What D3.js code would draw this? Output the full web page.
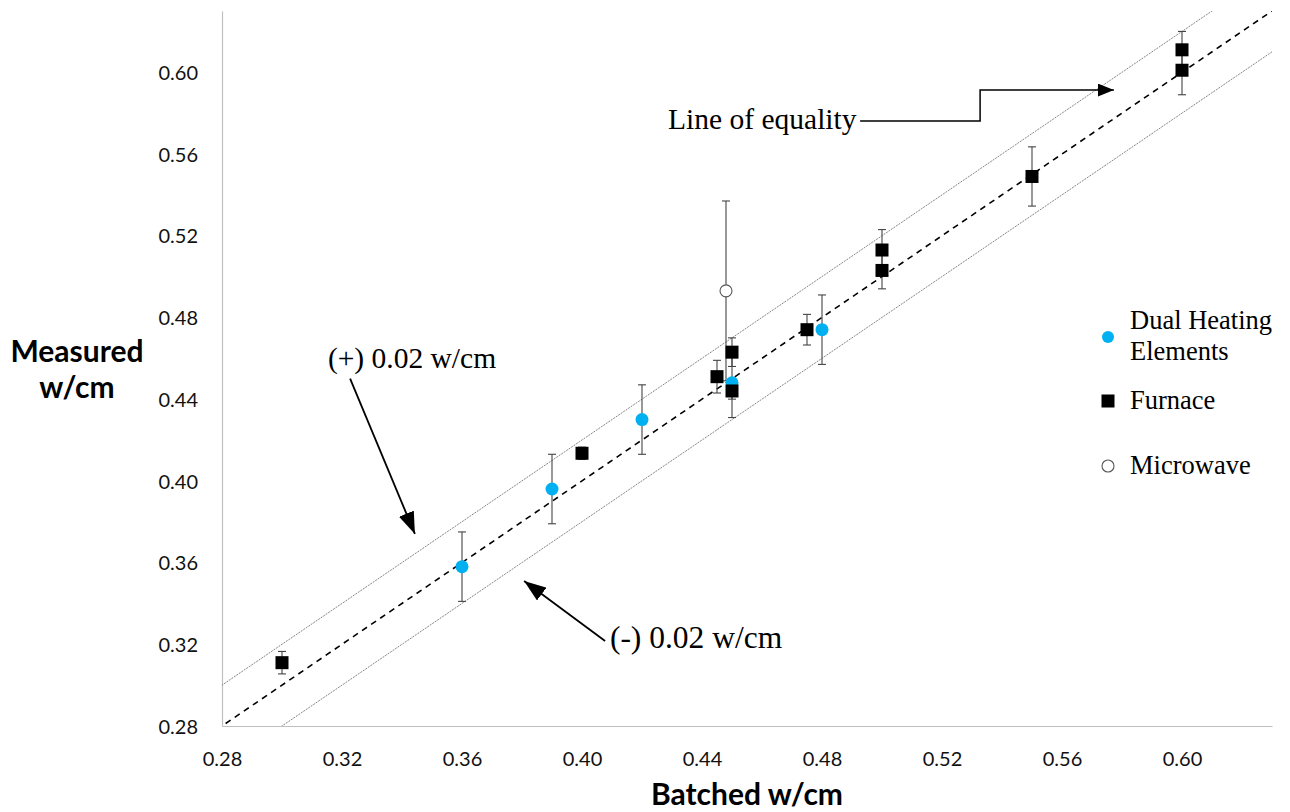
<!DOCTYPE html>
<html>
<head>
<meta charset="utf-8">
<script src="https://cdn.jsdelivr.net/npm/d3@7"></script>
<style>
  html, body { margin: 0; padding: 0; background: #fff; }
  svg { display: block; }
</style>
</head>
<body>
<svg id="chart" width="1290" height="812"></svg>
<script>
// ---- data ----
const xTicks = [0.28, 0.32, 0.36, 0.40, 0.44, 0.48, 0.52, 0.56, 0.60];
const yTicks = [0.28, 0.32, 0.36, 0.40, 0.44, 0.48, 0.52, 0.56, 0.60];

const dualX   = [0.36, 0.39, 0.42, 0.45, 0.48];
const dualY   = [0.358, 0.396, 0.430, 0.448, 0.474];
const dualErr = [0.017, 0.017, 0.017, 0.017, 0.017];

const furnaceX   = [0.30, 0.40, 0.445, 0.45, 0.45, 0.475, 0.50, 0.50, 0.55, 0.60, 0.60];
const furnaceY   = [0.311, 0.4135, 0.451, 0.463, 0.444, 0.474, 0.513, 0.503, 0.549, 0.611, 0.601];
const furnaceErr = [0.0055, 0.003, 0.008, 0.007, 0.004, 0.0075, 0.010, 0.009, 0.0145, 0.009, 0.012];

const microX   = [0.448];
const microY   = [0.493];
const microErr = [0.044];

const legendLabels = [["Dual Heating", "Elements"], ["Furnace"], ["Microwave"]];

(function () {
// ---- layout ----
const svg = d3.select("#chart");
const pL = 222, pR = 1272, pT = 11, pB = 726;
const x = d3.scaleLinear().domain([0.28, 0.63]).range([pL, pR]);
const y = d3.scaleLinear().domain([0.28, 0.63]).range([pB, pT]);

const defs = svg.append("defs");
defs.append("clipPath").attr("id", "plotclip")
  .append("rect").attr("x", pL).attr("y", pT).attr("width", pR - pL).attr("height", pB - pT);
defs.append("marker").attr("id", "arrowBig")
  .attr("viewBox", "0 0 10 10").attr("refX", 10).attr("refY", 5)
  .attr("markerWidth", 16).attr("markerHeight", 13).attr("markerUnits", "userSpaceOnUse")
  .attr("orient", "auto").attr("preserveAspectRatio", "none")
  .append("path").attr("d", "M0,0 L10,5 L0,10 z").attr("fill", "#000");
defs.append("marker").attr("id", "arrowDiag")
  .attr("viewBox", "0 0 10 10").attr("refX", 10).attr("refY", 5)
  .attr("markerWidth", 22).attr("markerHeight", 16).attr("markerUnits", "userSpaceOnUse")
  .attr("orient", "auto").attr("preserveAspectRatio", "none")
  .append("path").attr("d", "M0,0 L10,5 L0,10 z").attr("fill", "#000");

// ---- axes ----
const xAxis = d3.axisBottom(x).tickValues(xTicks).tickFormat(d3.format(".2f")).tickSize(0).tickPadding(26);
const yAxis = d3.axisLeft(y).tickValues(yTicks).tickFormat(d3.format(".2f")).tickSize(0).tickPadding(24);

const gx = svg.append("g").attr("transform", `translate(0,${pB})`).call(xAxis);
const gy = svg.append("g").attr("transform", `translate(${pL},0)`).call(yAxis);
[gx, gy].forEach(g => {
  g.select(".domain").attr("stroke", "#bfbfbf").attr("stroke-width", 1.2);
  g.selectAll("text").attr("font-family", "Lato, 'Open Sans', sans-serif")
    .attr("font-size", 20).attr("fill", "#111");
});
gy.selectAll("text").attr("dy", "0.36em");

// ---- reference lines ----
const plot = svg.append("g").attr("clip-path", "url(#plotclip)");
const refLines = [
  {off: 0.02, dash: "2,1", w: 0.8, c: "#666"},
  {off: -0.02, dash: "2,1", w: 0.8, c: "#666"},
  {off: 0, dash: "6,5", w: 1.6, c: "#000"}
];
refLines.forEach(r => {
  plot.append("line")
    .attr("x1", x(0.26)).attr("y1", y(0.26 + r.off))
    .attr("x2", x(0.65)).attr("y2", y(0.65 + r.off))
    .attr("stroke", r.c).attr("stroke-width", r.w)
    .attr("stroke-dasharray", r.dash);
});

// ---- error bars ----
function errorBars(xs, ys, es) {
  const g = svg.append("g").attr("stroke", "#444").attr("stroke-width", 1.1);
  xs.forEach((xv, i) => {
    const x0 = x(xv), y1 = y(ys[i] + es[i]), y2 = y(ys[i] - es[i]);
    g.append("line").attr("x1", x0).attr("x2", x0).attr("y1", y1).attr("y2", y2);
    g.append("line").attr("x1", x0 - 4).attr("x2", x0 + 4).attr("y1", y1).attr("y2", y1);
    g.append("line").attr("x1", x0 - 4).attr("x2", x0 + 4).attr("y1", y2).attr("y2", y2);
  });
}
errorBars(microX, microY, microErr);
errorBars(furnaceX, furnaceY, furnaceErr);
errorBars(dualX, dualY, dualErr);

// ---- points ----
svg.append("g").selectAll("circle").data(microX).join("circle")
  .attr("cx", d => x(d)).attr("cy", (d, i) => y(microY[i])).attr("r", 6)
  .attr("fill", "#fff").attr("stroke", "#555").attr("stroke-width", 1.1);

svg.append("g").selectAll("circle").data(dualX).join("circle")
  .attr("cx", d => x(d)).attr("cy", (d, i) => y(dualY[i])).attr("r", 6.5)
  .attr("fill", "#00b0f0");

const sq = 13;
svg.append("g").selectAll("rect").data(furnaceX).join("rect")
  .attr("x", d => x(d) - sq / 2).attr("y", (d, i) => y(furnaceY[i]) - sq / 2)
  .attr("width", sq).attr("height", sq).attr("fill", "#000");

// ---- legend ----
const serif = "'Liberation Serif', 'Times New Roman', serif";
const lg = svg.append("g");
const legendRows = [337, 401, 466];
lg.append("circle").attr("cx", 1108).attr("cy", legendRows[0]).attr("r", 6).attr("fill", "#00b0f0");
lg.append("rect").attr("x", 1101.5).attr("y", legendRows[1] - 6.5).attr("width", 13).attr("height", 13).attr("fill", "#000");
lg.append("circle").attr("cx", 1108).attr("cy", legendRows[2]).attr("r", 6).attr("fill", "#fff").attr("stroke", "#555").attr("stroke-width", 1.1);
legendLabels.forEach((lines, i) => {
  const t = lg.append("text").attr("font-family", serif).attr("font-size", 26.5).attr("fill", "#000")
    .attr("x", 1130).attr("y", legendRows[i] + 8 - (lines.length - 1) * 16);
  lines.forEach((s, j) => t.append("tspan").attr("x", 1130).attr("dy", j === 0 ? 0 : 31).text(s));
});

// ---- annotations ----
const ann = svg.append("g");
ann.append("text").attr("x", x(0.4287)).attr("y", y(0.5722))
  .attr("font-family", serif).attr("font-size", 29.5).text("Line of equality");
ann.append("path")
  .attr("d", `M${x(0.4927)},${y(0.5761)} H${x(0.5327)} V${y(0.5913)} H${x(0.5773)}`)
  .attr("fill", "none").attr("stroke", "#000").attr("stroke-width", 1.5)
  .attr("marker-end", "url(#arrowBig)");

ann.append("text").attr("x", x(0.3153)).attr("y", y(0.4552))
  .attr("font-family", serif).attr("font-size", 29.5).text("(+) 0.02 w/cm");
ann.append("line")
  .attr("x1", x(0.3227)).attr("y1", y(0.4500)).attr("x2", x(0.3443)).attr("y2", y(0.374))
  .attr("stroke", "#000").attr("stroke-width", 1.8).attr("marker-end", "url(#arrowDiag)");

ann.append("text").attr("x", x(0.4093)).attr("y", y(0.3182))
  .attr("font-family", serif).attr("font-size", 31.5).text("(-) 0.02 w/cm");
ann.append("line")
  .attr("x1", x(0.4077)).attr("y1", y(0.3216)).attr("x2", x(0.3807)).attr("y2", y(0.351))
  .attr("stroke", "#000").attr("stroke-width", 1.8).attr("marker-end", "url(#arrowDiag)");

// ---- axis titles ----
const sans = "Lato, 'Open Sans', sans-serif";
const yt = svg.append("text").attr("font-family", sans).attr("font-weight", 700)
  .attr("font-size", 30).attr("text-anchor", "middle").attr("fill", "#000");
yt.append("tspan").attr("x", 77).attr("y", 362).text("Measured");
yt.append("tspan").attr("x", 77).attr("y", 398).text("w/cm");
svg.append("text").attr("font-family", sans).attr("font-weight", 700)
  .attr("font-size", 30).attr("text-anchor", "middle").attr("fill", "#000")
  .attr("x", 747).attr("y", 805).text("Batched w/cm");
})();
</script>
</body>
</html>
